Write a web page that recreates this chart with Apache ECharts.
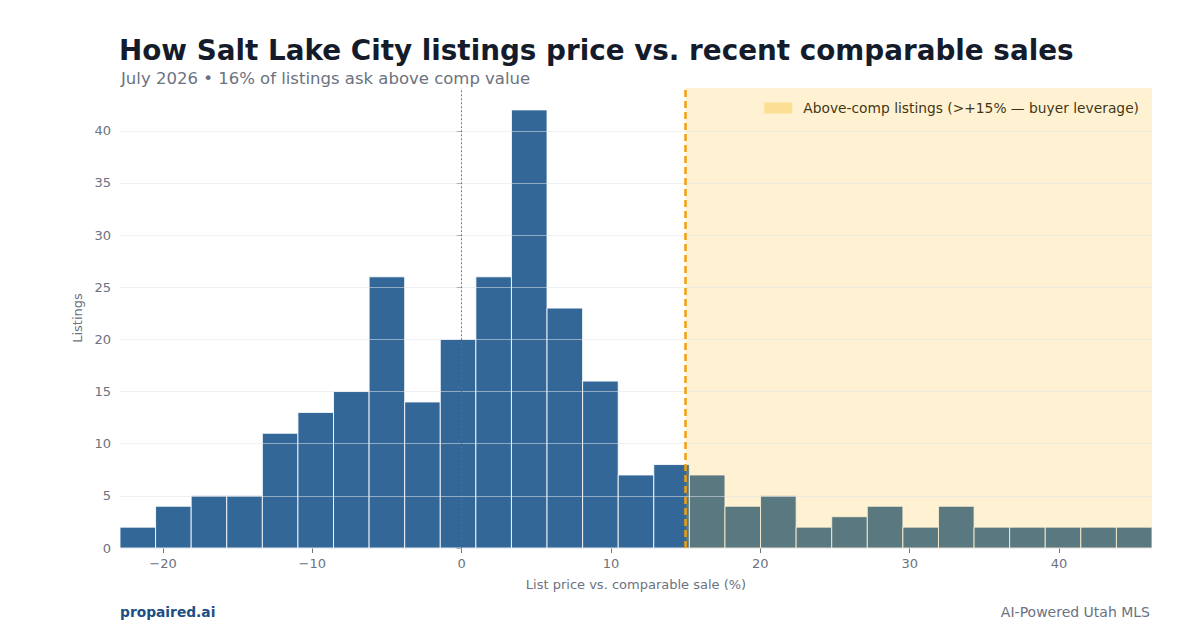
<!DOCTYPE html>
<html>
<head>
<meta charset="utf-8">
<style>
  html, body { margin: 0; padding: 0; background: #fff; }
  #chart { width: 1200px; height: 630px; }
</style>
<script src="https://cdn.jsdelivr.net/npm/echarts@6/dist/echarts.min.js"></script>
</head>
<body>
<div id="chart"></div>
<script>
// histogram counts, left to right
var counts = [2, 4, 5, 5, 11, 13, 15, 26, 14, 20, 26, 42, 23, 16, 7, 8, 7, 4, 5, 2, 3, 4, 2, 4, 2, 2, 2, 2, 2];
var binStart = -22.88;
var binWidth = 2.383;
var threshold = 15;
var xTicks = [-20, -10, 0, 10, 20, 30, 40];
var yTicks = [0, 5, 10, 15, 20, 25, 30, 35, 40];
var yMax = 44.1;

var blue = '#326798';
var muted = '#6b7280';
var rule = '#e3e4ec';
var font = 'DejaVu Sans';

var edges = [];
for (var i = 0; i <= counts.length; i++) edges.push(binStart + i * binWidth);
var xMax = edges[edges.length - 1];

var histData = counts.map(function(c, i) { return [edges[i], edges[i + 1], c]; });

function fmtX(v) {
  return v < 0 ? '\u2212' + Math.abs(v) : String(v);
}

var chart = echarts.init(document.getElementById('chart'), null, { renderer: 'svg' });
chart.setOption({
  animation: false,
  textStyle: { fontFamily: font },
  title: [
    { text: 'How Salt Lake City listings price vs. recent comparable sales', left: 114, top: 31,
      textStyle: { fontFamily: font, fontSize: 27.8, fontWeight: 'bold', color: '#141b2b' } },
    { text: 'July 2026 \u2022 16% of listings ask above comp value', left: 116, top: 65,
      textStyle: { fontFamily: font, fontSize: 16.5, fontWeight: 'normal', color: muted } },
    { text: 'propaired.ai', left: 115, top: 600,
      textStyle: { fontFamily: font, fontSize: 13.8, fontWeight: 'bold', color: '#1d4e84' } },
    { text: 'AI-Powered Utah MLS', right: 45, top: 600,
      textStyle: { fontFamily: font, fontSize: 14, fontWeight: 'normal', color: muted } }
  ],
  legend: {
    right: 56, top: 96,
    itemWidth: 28, itemHeight: 11,
    icon: 'rect',
    textStyle: { fontFamily: font, fontSize: 13.8, color: '#111', padding: [0, 0, 0, 6] },
    data: ['Above-comp listings (>+15% \u2014 buyer leverage)']
  },
  grid: { left: 120, right: 48, top: 88, bottom: 82 },
  xAxis: {
    type: 'value',
    min: binStart, max: xMax,
    name: 'List price vs. comparable sale (%)',
    nameLocation: 'middle', nameGap: 30,
    nameTextStyle: { color: muted, fontSize: 13, fontFamily: font },
    axisLine: { show: true, lineStyle: { color: rule } },
    axisTick: { show: true, customValues: xTicks, length: 5, lineStyle: { color: muted } },
    axisLabel: { customValues: xTicks, color: muted, fontSize: 13, margin: 9, formatter: fmtX },
    splitLine: { show: false }
  },
  yAxis: {
    type: 'value',
    min: 0, max: yMax,
    name: 'Listings',
    nameLocation: 'middle', nameGap: 32,
    nameTextStyle: { color: muted, fontSize: 13, fontFamily: font },
    axisLine: { show: true, lineStyle: { color: rule } },
    axisTick: { show: true, customValues: yTicks, length: 5, lineStyle: { color: muted } },
    axisLabel: { customValues: yTicks, color: muted, fontSize: 13, margin: 9 },
    splitLine: { show: false }
  },
  series: [
    {
      name: 'hist',
      type: 'custom',
      z: 2,
      data: histData,
      encode: { x: [0, 1], y: 2 },
      renderItem: function(params, api) {
        var p0 = api.coord([api.value(0), api.value(2)]);
        var p1 = api.coord([api.value(1), 0]);
        return {
          type: 'rect',
          shape: { x: p0[0], y: p0[1], width: p1[0] - p0[0], height: p1[1] - p0[1] },
          style: { fill: blue, stroke: 'rgba(255,255,255,0.85)', lineWidth: 1 }
        };
      }
    },
    {
      name: 'Above-comp listings (>+15% \u2014 buyer leverage)',
      type: 'line',
      z: 3,
      data: [],
      itemStyle: { color: 'rgba(251,191,36,0.36)' },
      markArea: {
        silent: true,
        z: 4,
        itemStyle: { color: 'rgba(251,191,36,0.2)' },
        data: [[{ xAxis: threshold }, { xAxis: xMax }]]
      },
      markLine: {
        silent: true,
        z: 5,
        symbol: 'none',
        label: { show: false },
        data: yTicks.slice(1).map(function(t) {
          return { yAxis: t, lineStyle: { color: 'rgba(225,227,232,0.55)', width: 1, type: 'solid' } };
        }).concat([
          { xAxis: 0, lineStyle: { color: '#6b6b6b', width: 1, type: [1.5, 2.5] } },
          { xAxis: threshold, lineStyle: { color: '#f59e0b', width: 2.5, type: [7, 4] } }
        ])
      }
    }
  ]
});
</script>
</body>
</html>
